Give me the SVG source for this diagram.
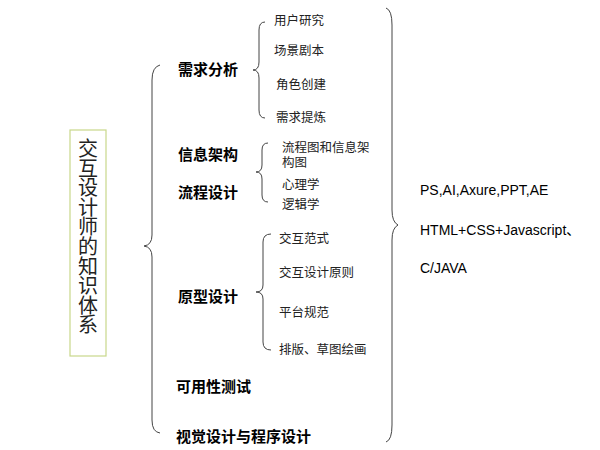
<svg xmlns="http://www.w3.org/2000/svg" width="600" height="450" viewBox="0 0 600 450">
<style>
text{font-family:"Liberation Sans","Noto Sans CJK SC",sans-serif;fill:#000}
.b{font-size:15px;font-weight:bold}
.s{font-size:12.5px;fill:#222}
.r{font-size:14px}
.br{fill:none;stroke:#444;stroke-width:1}
</style>
<rect width="600" height="450" fill="#fff"/>
<g id="root"><rect x="70" y="130" width="36" height="226" fill="#fff" stroke="#c8d88a" stroke-width="1.2"/>
<text x="88" y="156" font-size="20" text-anchor="middle" style="fill:#222"><tspan x="88">交</tspan><tspan x="88" dy="19.6">互</tspan><tspan x="88" dy="19.6">设</tspan><tspan x="88" dy="19.6">计</tspan><tspan x="88" dy="19.6">师</tspan><tspan x="88" dy="19.6">的</tspan><tspan x="88" dy="19.6">知</tspan><tspan x="88" dy="19.6">识</tspan><tspan x="88" dy="19.6">体</tspan><tspan x="88" dy="19.6">系</tspan></text></g>
<g id="connectors">
<path class="br" d="M160,65 Q152,67 152,80 L152,235 Q152,245 144,246 Q152,247 152,257 L152,420 Q152,432 160,433"/>
<path class="br" d="M265,22 Q259,22 259,30 L259,62 Q259,70 253,70 Q259,70 259,78 L259,110 Q259,118 265,118"/>
<path class="br" d="M268,143 Q262,143 262,150 L262,165 Q262,172 256,172 Q262,172 262,179 L262,195 Q262,202 268,202"/>
<path class="br" d="M271,234 Q263,234 263,242 L263,285 Q263,292 256,292 Q263,292 263,299 L263,342 Q263,350 271,350"/>
<path class="br" d="M386,8 Q392,10 392,25 L392,210 Q392,222 398,225 Q392,228 392,240 L392,425 Q392,440 386,442"/>
</g>
<g id="l1">
<text class="b" x="178" y="75">需求分析</text>
<text class="b" x="178" y="160">信息架构</text>
<text class="b" x="178" y="198">流程设计</text>
<text class="b" x="178" y="302">原型设计</text>
<text class="b" x="176" y="392">可用性测试</text>
<text class="b" x="176" y="442">视觉设计与程序设计</text>
</g>
<g id="l2">
<text class="s" x="274" y="25">用户研究</text>
<text class="s" x="274" y="55">场景剧本</text>
<text class="s" x="276" y="89">角色创建</text>
<text class="s" x="276" y="122">需求提炼</text>
<text class="s" x="282" y="152">流程图和信息架</text>
<text class="s" x="282" y="167">构图</text>
<text class="s" x="282" y="189">心理学</text>
<text class="s" x="282" y="209">逻辑学</text>
<text class="s" x="279" y="243">交互范式</text>
<text class="s" x="279" y="277">交互设计原则</text>
<text class="s" x="279" y="317">平台规范</text>
<text class="s" x="279" y="354">排版、草图绘画</text>
</g>
<g id="tools">
<text class="r" x="420" y="195">PS,AI,Axure,PPT,AE</text>
<text class="r" x="420" y="235">HTML+CSS+Javascript、</text>
<text class="r" x="420" y="273">C/JAVA</text>
</g>
</svg>
